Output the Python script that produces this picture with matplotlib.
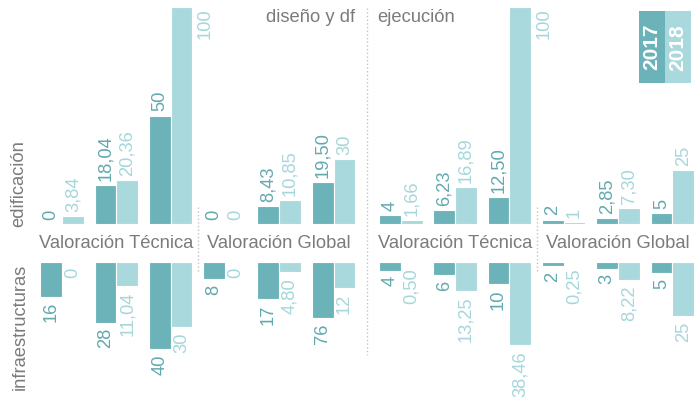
import matplotlib
matplotlib.use("Agg")
import matplotlib.pyplot as plt
from matplotlib.patches import Rectangle

# data: 4 groups (diseño/técnica, diseño/global, ejecución/técnica, ejecución/global), 3 pairs each
GROUPS = ["Valoración Técnica", "Valoración Global", "Valoración Técnica", "Valoración Global"]
PANELS = ["diseño y df", "ejecución"]
ROWS = ["edificación", "infraestructuras"]
YEARS = ["2017", "2018"]

edif_2017 = [0, 18.04, 50, 0, 8.43, 19.50, 4, 6.23, 12.50, 2, 2.85, 5]
edif_2018 = [3.84, 20.36, 100, 0, 10.85, 30, 1.66, 16.89, 100, 1, 7.30, 25]
edif_lbl_2017 = ["0", "18,04", "50", "0", "8,43", "19,50", "4", "6,23", "12,50", "2", "2,85", "5"]
edif_lbl_2018 = ["3,84", "20,36", "100", "0", "10,85", "30", "1,66", "16,89", "100", "1", "7,30", "25"]

infra_2017 = [16, 28, 40, 8, 17, 26, 4, 6, 10, 2, 3, 5]
infra_2018 = [0, 11.04, 30, 0, 4.80, 12, 0.50, 13.25, 38.46, 0.25, 8.22, 25]
infra_lbl_2017 = ["16", "28", "40", "8", "17", "76", "4", "6", "10", "2", "3", "5"]
infra_lbl_2018 = ["0", "11,04", "30", "0", "4,80", "12", "0,50", "13,25", "38,46", "0,25", "8,22", "25"]

C17 = "#6cb3b9"
C18 = "#a9d9dd"
T17 = "#62a9af"
T18 = "#a6d7db"
GREY = "#7b7b7b"
DIV = "#c4c4c4"

plt.rcParams["font.family"] = ["Liberation Sans", "DejaVu Sans"]
FS = 13.2

W, H = 699, 408
fig = plt.figure(figsize=(W / 100, H / 100), dpi=100)

# pair centres in "pair pitch" units, extra gap between the two panels
PITCH = 54.3
X0 = 62
GAP = 0.24
pos = [i + (GAP if i >= 6 else 0) for i in range(12)]
BW = 0.4
xlim = (-X0 / PITCH, (W - X0) / PITCH)


def px(x):
    # pixel column -> x data units
    return (x - X0) / PITCH


ax_top = fig.add_axes([0, 1 - 224 / H, 1, 217 / H])
ax_bot = fig.add_axes([0, 1 - 392 / H, 1, 130 / H])
ov = fig.add_axes([0, 0, 1, 1], zorder=-1)
for a in (ax_top, ax_bot, ov):
    a.set_xlim(*xlim)
    a.axis("off")
ax_top.set_ylim(0, 100)
ax_bot.set_ylim(60, 0)
ov.set_ylim(H, 0)

x17 = [p - BW / 2 for p in pos]
x18 = [p + BW / 2 for p in pos]
kw = dict(width=BW, edgecolor="white", linewidth=0.8)
ax_top.bar(x17, edif_2017, color=C17, **kw)
ax_top.bar(x18, edif_2018, color=C18, **kw)
ax_bot.bar(x17, infra_2017, color=C17, **kw)
ax_bot.bar(x18, infra_2018, color=C18, **kw)

tkw = dict(rotation=90, ha="center", fontsize=FS, textcoords="offset points")
for xs, vals, lbls, col in [(x17, edif_2017, edif_lbl_2017, T17),
                            (x18, edif_2018, edif_lbl_2018, T18)]:
    for x, v, s in zip(xs, vals, lbls):
        if v >= 100:
            ax_top.annotate(s, (x + 0.44, v), xytext=(0, -1), va="top", color=col, **tkw)
        else:
            ax_top.annotate(s, (x, v), xytext=(0, 3), va="bottom", color=col, **tkw)

for xs, vals, lbls, col in [(x17, infra_2017, infra_lbl_2017, T17),
                            (x18, infra_2018, infra_lbl_2018, T18)]:
    for x, v, s in zip(xs, vals, lbls):
        ax_bot.annotate(s, (x, v), xytext=(0, -4), va="top", color=col, **tkw)

# group labels and dividers
for g, name in enumerate(GROUPS):
    cx = (pos[3 * g] + pos[3 * g + 2]) / 2
    ov.text(cx, 243, name, ha="center", va="center", fontsize=FS, color=GREY)

ov.plot([(pos[2] + pos[3]) / 2] * 2, [207, 273], ls=":", color=DIV, lw=1)
ov.plot([(pos[8] + pos[9]) / 2] * 2, [207, 273], ls=":", color=DIV, lw=1)
mid = (pos[5] + pos[6]) / 2
ov.plot([mid, mid], [8, 355], ls=":", color=DIV, lw=1)

ov.text(mid - 0.22, 9, PANELS[0], ha="right", va="top", fontsize=FS, color=GREY)
ov.text(mid + 0.18, 9, PANELS[1], ha="left", va="top", fontsize=FS, color=GREY)

# row labels
ov.text(px(19), 184, ROWS[0], rotation=90, ha="center", va="center", fontsize=FS, color=GREY)
ov.text(px(20), 327, ROWS[1], rotation=90, ha="center", va="center", fontsize=FS, color=GREY)

# legend box
lx = px(639)
lw_ = 26 / PITCH
for i, (yr, col) in enumerate(zip(YEARS, [C17, C18])):
    ov.add_patch(Rectangle((lx + i * lw_, 11), lw_, 72, facecolor=col, edgecolor="none"))
    ov.text(lx + (i + 0.5) * lw_, 24, yr, rotation=90, ha="center", va="top",
            fontsize=15, fontweight="bold", color="white")

fig.savefig("out.png", dpi=100)
